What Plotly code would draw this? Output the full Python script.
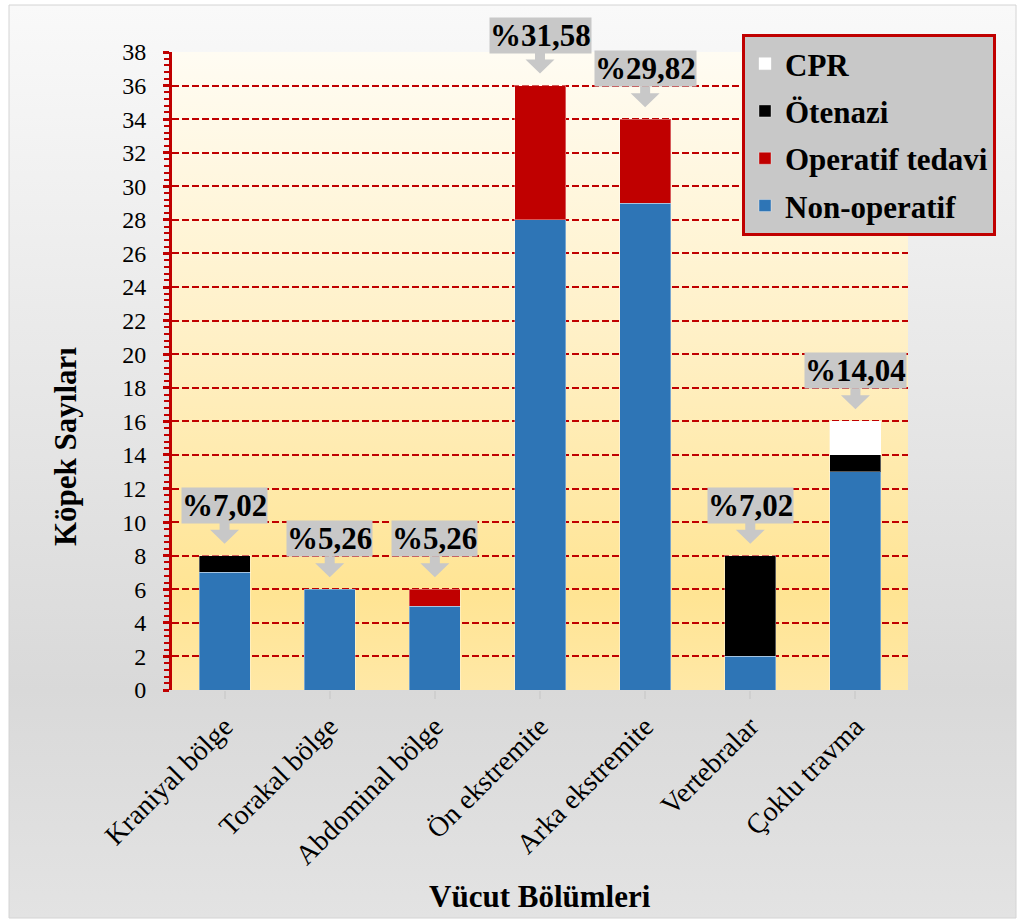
import base64
import plotly.graph_objects as go

# Body regions and treatment outcome counts (dogs)
regions = ["Kraniyal bölge", "Torakal bölge", "Abdominal bölge", "Ön ekstremite",
           "Arka ekstremite", "Vertebralar", "Çoklu travma"]
non_operatif = [7, 6, 5, 28, 29, 2, 13]
operatif_tedavi = [0, 0, 1, 8, 5, 0, 0]
otenazi = [1, 0, 0, 0, 0, 6, 1]
cpr = [0, 0, 0, 0, 0, 0, 2]

y_ticks = list(range(0, 39, 2))

W, H = 1017, 920
M_L, M_R, M_T, M_B = 172, 109, 52, 230
SERIF = "Liberation Serif, Times New Roman, serif"


def gradient_uri(stops):
    """Vertical linear gradient as an SVG data URI."""
    st = "".join(f'<stop offset="{o}" stop-color="{c}"/>' for o, c in stops)
    svg = ('<svg xmlns="http://www.w3.org/2000/svg" width="10" height="100" '
           'viewBox="0 0 10 100" preserveAspectRatio="none">'
           f'<defs><linearGradient id="g" x1="0" y1="0" x2="0" y2="1">{st}</linearGradient></defs>'
           '<rect width="10" height="100" fill="url(#g)"/></svg>')
    return "data:image/svg+xml;base64," + base64.b64encode(svg.encode()).decode()


def px_to_paper_x(px):
    return (px - M_L) / (W - M_L - M_R)


def px_to_paper_y(py):
    return (H - M_B - py) / (H - M_T - M_B)


def nz(vals):
    return [v if v else None for v in vals]


# stacked bottom-to-top; legend rank puts the top segment first
series = [
    ("Non-operatif", non_operatif, "#2e75b6", 4),
    ("Operatif tedavi", operatif_tedavi, "#c00000", 3),
    ("Ötenazi", otenazi, "#000000", 2),
    ("CPR", cpr, "#ffffff", 1),
]

fig = go.Figure()
for name, vals, color, rank in series:
    fig.add_trace(go.Bar(
        x=regions, y=nz(vals), name=name, legendgroup=name, legendrank=rank,
        marker=dict(color=color, line=dict(color="rgba(255,255,255,0.35)", width=1)),
        hoverinfo="skip",
    ))

totals = [a + b + c + d for a, b, c, d in zip(non_operatif, operatif_tedavi, otenazi, cpr)]
grand = sum(totals)

annotations = []
shapes = []
for reg, tot in zip(regions, totals):
    pct = f"%{tot / grand * 100:.2f}".replace(".", ",")
    annotations.append(dict(
        x=reg, y=tot, xref="x", yref="y", text=f"<b>{pct}</b>", showarrow=False,
        yanchor="bottom", yshift=32, bgcolor="#c8c8c8", borderpad=0,
        font=dict(family=SERIF, size=31, color="#000000"),
    ))
    # downward pointer under each callout box
    shapes.append(dict(
        type="path", xref="x", yref="y", xsizemode="pixel", ysizemode="pixel",
        xanchor=reg, yanchor=tot,
        path="M-14.5,26 L0,12 L14.5,26 L5,26 L5,33 L-5,33 L-5,26 Z",
        fillcolor="#c8c8c8", line=dict(width=0), layer="above",
    ))

# axis titles
annotations.append(dict(
    text="<b>Köpek Sayıları</b>", xref="paper", yref="paper",
    x=px_to_paper_x(65), y=px_to_paper_y(447), xanchor="center", yanchor="middle",
    textangle=-90, showarrow=False, font=dict(family=SERIF, size=31, color="#000000"),
))
annotations.append(dict(
    text="<b>Vücut Bölümleri</b>", xref="paper", yref="paper",
    x=px_to_paper_x(540), y=px_to_paper_y(896), xanchor="center", yanchor="middle",
    showarrow=False, font=dict(family=SERIF, size=31, color="#000000"),
))

# outer chart frame
shapes.append(dict(
    type="rect", xref="paper", yref="paper",
    x0=px_to_paper_x(9), x1=px_to_paper_x(1016), y0=px_to_paper_y(918), y1=px_to_paper_y(5),
    line=dict(color="#d4d4d4", width=1), fillcolor="rgba(0,0,0,0)", layer="below",
))

images = [
    dict(source=gradient_uri([(0, "#f9f9f9"), (0.75, "#d9d9d9"), (1, "#e3e3e3")]),
         xref="paper", yref="paper", x=px_to_paper_x(9), y=px_to_paper_y(5),
         sizex=px_to_paper_x(1016) - px_to_paper_x(9), sizey=px_to_paper_y(5) - px_to_paper_y(918),
         sizing="stretch", xanchor="left", yanchor="top", layer="below"),
    dict(source=gradient_uri([(0, "#fffcf3"), (0.45, "#fff0c6"), (0.85, "#ffe493"), (1, "#ffe8a6")]),
         xref="paper", yref="paper", x=0, y=1, sizex=1, sizey=1,
         sizing="stretch", xanchor="left", yanchor="top", layer="below"),
]

fig.update_layout(
    width=W, height=H, autosize=False,
    margin=dict(l=M_L, r=M_R, t=M_T, b=M_B, autoexpand=False),
    paper_bgcolor="#ffffff", plot_bgcolor="rgba(0,0,0,0)",
    barmode="stack", bargap=0.515,
    font=dict(family=SERIF, color="#000000"),
    showlegend=True,
    legend=dict(
        xref="container", yref="container", x=742 / W, y=1 - 34 / H,
        xanchor="left", yanchor="top",
        traceorder="grouped", tracegroupgap=4,
        entrywidth=224, entrywidthmode="pixels",
        bgcolor="#c8c8c8", bordercolor="#c00000", borderwidth=3,
        font=dict(family=SERIF, size=31, color="#000000", weight="bold"),
    ),
    xaxis=dict(
        type="category", categoryorder="array", categoryarray=regions,
        showline=True, linecolor="#d9d9d9", linewidth=1,
        ticks="outside", ticklen=8, tickwidth=2, tickcolor="#cfcfcf",
        tickangle=-45, tickfont=dict(family=SERIF, size=28, color="#000000"),
        showgrid=False, zeroline=False,
    ),
    yaxis=dict(
        range=[0, 38], tickvals=y_ticks, ticktext=[str(v) for v in y_ticks],
        showgrid=True, gridcolor="#c00000", gridwidth=2, griddash="7px,3px",
        showline=True, linecolor="#c00000", linewidth=3, zeroline=False,
        ticks="outside", ticklen=6, tickwidth=2.5, tickcolor="#c00000",
        minor=dict(dtick=0.4, tick0=0, ticks="outside", ticklen=5, tickwidth=2,
                   tickcolor="#c00000", showgrid=False),
        ticklabelstandoff=12,
        tickfont=dict(family=SERIF, size=24, color="#000000"),
    ),
    yaxis2=dict(
        overlaying="y", anchor="x", side="left", range=[0, 38], tickvals=y_ticks,
        showticklabels=False, showgrid=False, showline=False, zeroline=False,
        ticks="inside", ticklen=6, tickwidth=2.5, tickcolor="#c00000",
        minor=dict(dtick=0.4, tick0=0, ticks="inside", ticklen=5, tickwidth=2,
                   tickcolor="#c00000", showgrid=False),
    ),
    annotations=annotations,
    shapes=shapes,
    images=images,
)

fig.write_html("out.html")
